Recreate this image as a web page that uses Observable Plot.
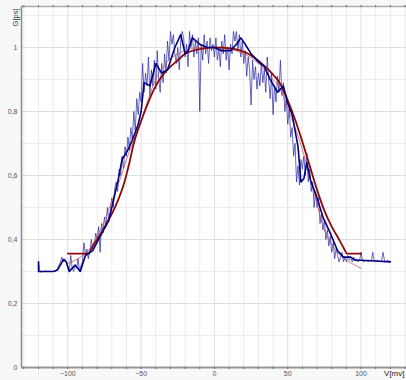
<!DOCTYPE html>
<html><head><meta charset="utf-8">
<script src="https://cdn.jsdelivr.net/npm/d3@7"></script>
<script src="https://cdn.jsdelivr.net/npm/@observablehq/plot@0.6"></script>
<style>html,body{margin:0;padding:0;background:#f8f8f8;overflow:hidden;width:406px;height:380px}svg{display:block}</style>
</head><body><div id="chart"></div>
<script>
const xTicks = [-100, -50, 0, 50, 100];
const yTicks = [0, 0.2, 0.4, 0.6, 0.8, 1];
const yTickLabels = ["0", "0,2", "0,4", "0,6", "0,8", "1"];
const xLabel = "V[mv]";
const yLabel = "G[ps]";

// raw noisy trace, one sample per mV starting at -120
const rawStart = -120;
const rawG = [
  0.33,0.30,0.298,0.30,0.30,0.302,0.30,0.30,0.301,0.30,
  0.30,0.30,0.302,0.31,0.32,0.33,0.345,0.33,0.34,0.325,
  0.31,0.30,0.35,0.31,0.30,0.32,0.31,0.34,0.30,0.32,
  0.33,0.39,0.35,0.37,0.34,0.36,0.40,0.37,0.38,0.42,
  0.40,0.44,0.36,0.45,0.42,0.47,0.44,0.50,0.46,0.49,
  0.53,0.50,0.56,0.58,0.55,0.62,0.60,0.66,0.62,0.69,
  0.66,0.72,0.68,0.75,0.71,0.80,0.74,0.84,0.79,0.86,
  0.83,0.95,0.86,0.92,0.88,0.97,0.85,0.93,0.88,0.96,
  0.87,0.99,0.90,0.86,0.95,0.89,0.98,0.92,1.02,0.96,
  1.05,1.01,1.04,0.98,0.95,1.00,0.93,1.02,1.05,1.03,
  0.97,1.01,0.94,1.05,1.00,1.04,0.97,1.02,0.98,1.03,
  0.80,1.01,0.96,1.04,0.98,1.02,0.95,1.03,0.99,1.01,
  0.97,1.03,0.96,1.00,0.94,1.02,0.98,1.04,0.96,1.00,
  0.93,1.01,0.98,1.05,1.02,1.05,0.99,1.04,0.97,1.02,
  0.95,0.99,0.91,0.97,0.93,0.82,0.96,0.90,0.94,0.87,
  0.92,0.88,0.95,0.89,0.93,0.86,0.97,0.90,0.84,0.92,
  0.79,0.88,0.83,0.91,0.86,0.96,0.85,0.89,0.80,0.84,
  0.76,0.81,0.72,0.75,0.66,0.70,0.58,0.63,0.57,0.65,
  0.62,0.66,0.60,0.67,0.58,0.62,0.55,0.58,0.50,0.55,
  0.50,0.53,0.45,0.48,0.43,0.46,0.40,0.43,0.38,0.41,
  0.36,0.39,0.34,0.37,0.35,0.33,0.345,0.36,0.33,0.345,
  0.33,0.35,0.335,0.34,0.33,0.345,0.335,0.34,0.33,0.335,
  0.36,0.333,0.33,0.335,0.333,0.33,0.335,0.333,0.36,0.333,
  0.33,0.335,0.333,0.33,0.335,0.36,0.333,0.33,0.335,0.333,
  0.33
];

// smoothed trace
const smoothV = [-120,-120,-115,-110,-107,-103,-101,-99,-95,-91.5,-88,-83,-78,-72,-69,-65.5,-63,-59,-56,-52,-50,-48,-44,-40,-36,-32,-27,-23,-20,-18,-15,-10,-5,0,5,11,15,18,21,25,30,34,38,43,47,50,53,55,57,59,61,63,65.5,70,74,79,84,88,93,96,100,110,120];
const smoothG = [0.33,0.30,0.30,0.30,0.305,0.337,0.33,0.30,0.32,0.30,0.35,0.365,0.41,0.46,0.52,0.59,0.65,0.68,0.71,0.76,0.80,0.89,0.88,0.95,0.92,0.93,1.00,1.04,0.98,0.99,1.03,1.01,1.00,1.00,0.99,0.99,1.01,1.03,1.01,0.98,0.955,0.94,0.90,0.86,0.88,0.825,0.79,0.74,0.69,0.58,0.59,0.64,0.585,0.53,0.47,0.42,0.365,0.345,0.345,0.335,0.335,0.333,0.33];

// main fit (thick red)
const fitV = [-100,-86,-83,-80,-76,-73,-70,-66,-62,-58,-55,-50,-45,-40,-35,-30,-25,-20,-10,0,10,18,25,31,38,45,50,55,60,65,70,75,80,85,88,90.5,100];
const fitG = [0.356,0.356,0.38,0.40,0.43,0.455,0.48,0.52,0.57,0.64,0.70,0.77,0.83,0.88,0.915,0.94,0.96,0.98,0.995,1.0,0.998,0.99,0.975,0.955,0.925,0.885,0.835,0.775,0.705,0.63,0.555,0.49,0.44,0.40,0.375,0.356,0.356];

// second fit (thin red)
const fit2V = [-100,-95,-90,-85,-80,-75,-70,-65,-60,-55,-50,-45,-40,-35,-30,-25,-20,-10,0,10,20,30,40,45,50,55,60,65,70,75,80,85,90,95,100];
const fit2G = [0.325,0.335,0.35,0.37,0.41,0.46,0.52,0.58,0.65,0.71,0.77,0.84,0.90,0.94,0.965,0.98,0.99,1.0,1.0,0.995,0.98,0.95,0.90,0.87,0.81,0.75,0.68,0.60,0.51,0.43,0.385,0.355,0.335,0.322,0.31];

const xMin = -131.6, xMax = 131, yMax = 1.128;
const gridX = d3.range(-130, 131, 10);
const gridY = d3.range(0, 12).map(i => i / 10);
const isMajorX = d => d % 50 === 0;
const isMajorY = d => Math.abs(Math.round(d * 10) % 2) === 0;

const chart = Plot.plot({
  width: 406, height: 380,
  marginLeft: 21, marginRight: 0, marginTop: 6, marginBottom: 13,
  x: {domain: [xMin, xMax]},
  y: {domain: [0, yMax]},
  style: {background: "#f8f8f8", fontFamily: "'Liberation Sans', Arial, sans-serif", overflow: "hidden"},
  marks: [
    Plot.frame({fill: "white", stroke: null}),
    Plot.ruleX(gridX.filter(d => !isMajorX(d)), {stroke: "#ebebeb"}),
    Plot.ruleX(gridX.filter(isMajorX), {stroke: "#dedede"}),
    Plot.ruleY(gridY.filter(d => !isMajorY(d)), {stroke: "#ebebeb"}),
    Plot.ruleY(gridY.filter(isMajorY), {stroke: "#dedede"}),
    Plot.ruleY([0], {stroke: "#999", strokeWidth: 2}),
    Plot.ruleY([yMax], {stroke: "#aaa", strokeWidth: 1.5}),
    Plot.ruleX([xMin], {stroke: "#888", strokeWidth: 1.5}),
    Plot.axisX(gridX, {anchor: "bottom", tickSize: 2, tickFormat: () => "", stroke: "#666", label: null}),
    Plot.axisX(gridX, {anchor: "top", tickSize: 2, tickFormat: () => "", stroke: "#666", label: null}),
    Plot.axisX(xTicks, {anchor: "bottom", tickSize: 0, tickPadding: 4, fontSize: 7, fill: "#555", label: null}),
    Plot.axisY(yTicks, {anchor: "left", tickSize: 0, tickPadding: 4, fontSize: 7, fill: "#555", label: null,
      tickFormat: d => yTickLabels[yTicks.indexOf(d)]}),
    Plot.line(rawG, {x: (d, i) => rawStart + i, y: d => d, stroke: "#2020a0", strokeOpacity: 0.68, strokeWidth: 1}),
    Plot.line(fit2V, {x: fit2V, y: fit2G, stroke: "#c85a5a", strokeWidth: 0.8, curve: "monotone-x"}),
    Plot.line(fitV, {x: fitV, y: fitG, stroke: "#8e0a0a", strokeWidth: 1.8, curve: "monotone-x"}),
    Plot.line(smoothV, {x: smoothV, y: smoothG, stroke: "#000080", strokeWidth: 1.6}),
    Plot.text([yLabel], {frameAnchor: "top-left", dx: -9, dy: 2, rotate: -90, textAnchor: "end", fontSize: 7.5, fill: "#333"}),
    Plot.text([xLabel], {frameAnchor: "bottom-right", dx: -2, dy: 8, textAnchor: "end", fontSize: 8, fill: "#222"})
  ]
});
document.getElementById("chart").appendChild(chart);
</script>
</body></html>
